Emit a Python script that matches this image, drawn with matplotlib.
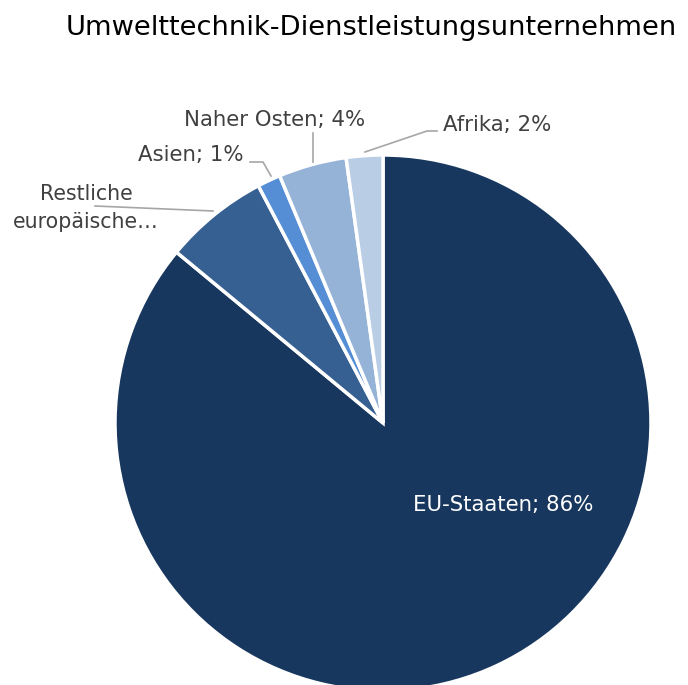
import matplotlib
matplotlib.use('Agg')
import matplotlib.pyplot as plt

title = 'Umwelttechnik-Dienstleistungsunternehmen'
regions = ['EU-Staaten', 'Restliche europäische Länder', 'Asien', 'Naher Osten', 'Afrika']
shares = [86.0, 6.3, 1.4, 4.1, 2.2]
pct_labels = ['86%', '7%', '1%', '4%', '2%']
colors = ['#17375E', '#376092', '#558ED5', '#95B3D7', '#B9CDE5']

W, H = 688, 685
plt.rcParams['font.family'] = ['DejaVu Sans']

fig = plt.figure(figsize=(W / 100, H / 100), dpi=100)
ax = fig.add_axes([0, 0, 1, 1])

def py(y):
    # pixel row (from top) -> data y
    return H - y

ax.pie(shares, colors=colors, startangle=90, counterclock=False,
       center=(383, py(423)), radius=268,
       wedgeprops=dict(edgecolor='white', linewidth=2.5))
ax.set_xlim(0, W)
ax.set_ylim(0, H)
ax.set_aspect('equal')
ax.set_axis_off()

txt = '#404040'
line = '#A6A6A6'
fs = 15.3

# EU label inside
ax.text(503, py(505), f'{regions[0]}; {pct_labels[0]}', color='white',
        fontsize=fs, ha='center', va='center')

# Restliche
ax.text(86, py(208), 'Restliche\neuropäische…', color=txt, fontsize=14.8,
        ha='center', va='center', linespacing=1.55)
ax.plot([95, 213], [py(206), py(211)], color=line, lw=1.2)

# Asien
ax.text(191, py(155), f'{regions[2]}; {pct_labels[2]}', color=txt,
        fontsize=fs, ha='center', va='center')
ax.plot([250, 263, 271], [py(162), py(162), py(176)], color=line, lw=1.2)

# Naher Osten
ax.text(275, py(120), f'{regions[3]}; {pct_labels[3]}', color=txt,
        fontsize=fs, ha='center', va='center')
ax.plot([313, 313], [py(133), py(162)], color=line, lw=1.2)

# Afrika
ax.text(497, py(125), f'{regions[4]}; {pct_labels[4]}', color=txt,
        fontsize=fs, ha='center', va='center')
ax.plot([365, 427, 437], [py(152), py(131), py(131)], color=line, lw=1.2)

fig.text(371 / W, 1 - 28 / H, title, fontsize=19.6, color='black',
         ha='center', va='center')

plt.savefig('out.png', dpi=100)
